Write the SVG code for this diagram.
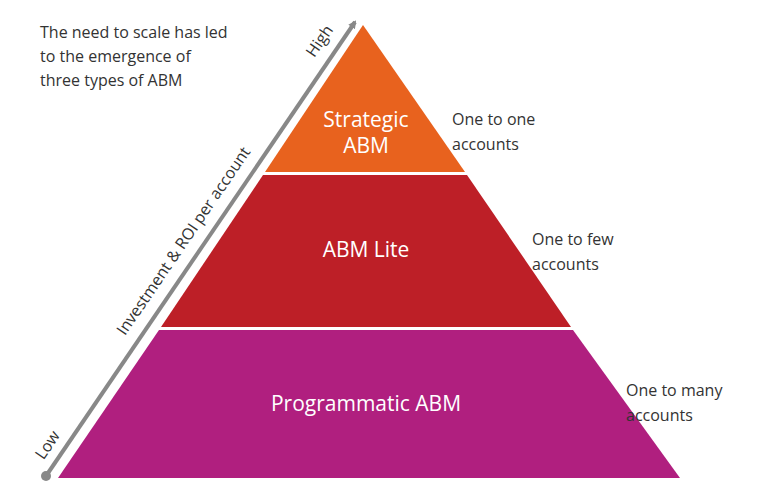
<svg xmlns="http://www.w3.org/2000/svg" width="760" height="486" viewBox="0 0 760 486">
<style>
text{font-family:"Open Sans","Noto Sans",sans-serif;}
.w{fill:#fff;font-size:21px;text-anchor:middle}
.d{fill:#333;font-size:16px}
.a{fill:#333;font-size:16px;text-anchor:middle}
</style>
<defs><marker id="ah" markerWidth="8" markerHeight="8" refX="6" refY="4" orient="auto" markerUnits="userSpaceOnUse"><path d="M0,0L8,4L0,8Z" fill="#888"/></marker></defs>
<rect width="760" height="486" fill="#fff"/>
<text class="d" x="40" y="38">The need to scale has led</text>
<text class="d" x="40" y="62">to the emergence of</text>
<text class="d" x="40" y="86">three types of ABM</text>
<g id="connectors">
<line x1="46" y1="476" x2="355" y2="22" stroke="#888" stroke-width="4" marker-end="url(#ah)"/>
<circle cx="46" cy="476" r="5" fill="#888"/>
</g>
<text class="a" transform="translate(188,244) rotate(-55.7)">Investment &amp; ROI per account</text>
<text class="a" transform="translate(52,448) rotate(-55.7)">Low</text>
<text class="a" transform="translate(324,44) rotate(-55.7)">High</text>
<g id="strategic"><polygon points="363,25 265,172 465,172" fill="#e8621e"/>
<text class="w" x="366" y="127">Strategic</text><text class="w" x="366" y="153">ABM</text></g>
<g id="lite"><polygon points="263,175 467,175 571,327 161,327" fill="#bd1f27"/>
<text class="w" x="366" y="257">ABM Lite</text></g>
<g id="programmatic"><polygon points="159,330 573,330 680,478 58,478" fill="#b01f7f"/>
<text class="w" x="366" y="411">Programmatic ABM</text></g>
<g id="l1"><text class="d" x="452" y="125">One to one</text><text class="d" x="452" y="150">accounts</text></g>
<g id="l2"><text class="d" x="532" y="245">One to few</text><text class="d" x="532" y="270">accounts</text></g>
<g id="l3"><text class="d" x="626" y="396">One to many</text><text class="d" x="626" y="421">accounts</text></g>
</svg>
